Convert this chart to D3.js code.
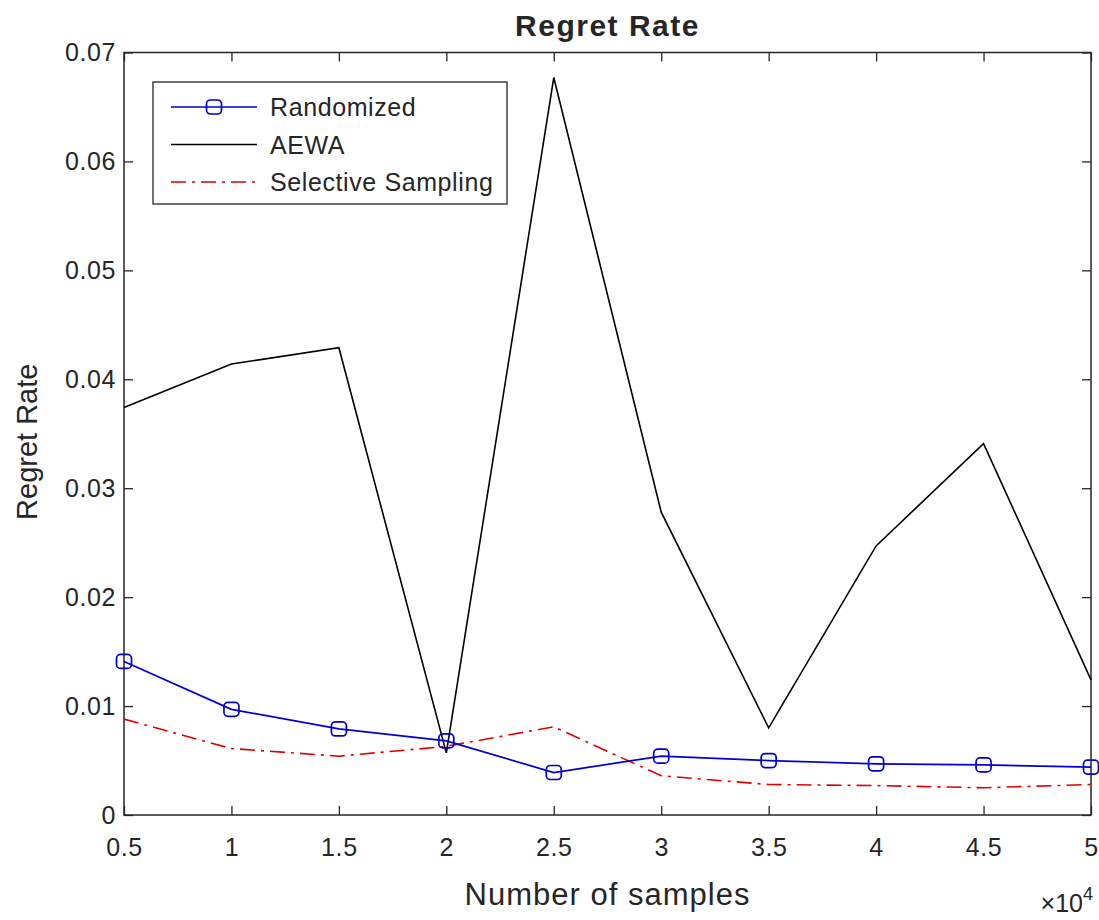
<!DOCTYPE html>
<html>
<head>
<meta charset="UTF-8">
<title>Regret Rate</title>
<style>
  body { margin: 0; background: #fff; }
  text { font-family: "Liberation Sans", Arial, sans-serif; fill: #262626; }
</style>
</head>
<body>
<div id="chart"></div>
<script src="https://cdn.jsdelivr.net/npm/d3@7"></script>
<script>
// data
var samples = [5000, 10000, 15000, 20000, 25000, 30000, 35000, 40000, 45000, 50000];
var randomized = [0.0141, 0.0097, 0.0079, 0.0068, 0.0039, 0.0054, 0.0050, 0.0047, 0.0046, 0.0044];
var aewa = [0.0374, 0.0414, 0.0429, 0.0057, 0.0677, 0.0278, 0.0080, 0.0247, 0.0341, 0.0124];
var selective = [0.0088, 0.0061, 0.0054, 0.0063, 0.0081, 0.0036, 0.0028, 0.0027, 0.0025, 0.0028];
var xTicks = [5000, 10000, 15000, 20000, 25000, 30000, 35000, 40000, 45000, 50000];
var yTicks = [0, 0.01, 0.02, 0.03, 0.04, 0.05, 0.06, 0.07];
var seriesNames = ["Randomized", "AEWA", "Selective Sampling"];

var width = 1099, height = 920;
var margin = { top: 52.5, right: 8, bottom: 105, left: 124 };
var axisColor = "#262626";

var svg = d3.select("#chart").append("svg")
  .attr("width", width)
  .attr("height", height);

var x = d3.scaleLinear().domain([5000, 50000]).range([margin.left, width - margin.right]);
var y = d3.scaleLinear().domain([0, 0.07]).range([height - margin.bottom, margin.top]);

var x0 = x.range()[0], x1 = x.range()[1], y0 = y.range()[0], y1 = y.range()[1];

// box
svg.append("rect")
  .attr("x", x0).attr("y", y1)
  .attr("width", x1 - x0).attr("height", y0 - y1)
  .attr("fill", "#fff")
  .attr("stroke", axisColor)
  .attr("stroke-width", 1.5);

// axes (inward ticks)
var tickLen = 9;
var xAxis = d3.axisBottom(x).tickValues(xTicks).tickSize(-tickLen).tickPadding(23)
  .tickFormat(function(d) { return d3.format("~g")(d / 10000); });
var gx = svg.append("g").attr("transform", "translate(0," + y0 + ")").call(xAxis);

var yAxis = d3.axisLeft(y).tickValues(yTicks).tickSize(-tickLen).tickPadding(8)
  .tickFormat(function(d) { return d === 0 ? "0" : d3.format(".2f")(d); });
var gy = svg.append("g").attr("transform", "translate(" + x0 + ",0)").call(yAxis);

// top and right ticks
svg.append("g").attr("transform", "translate(0," + y1 + ")")
  .call(d3.axisTop(x).tickValues(xTicks).tickSize(-tickLen).tickFormat(""));
svg.append("g").attr("transform", "translate(" + x1 + ",0)")
  .call(d3.axisRight(y).tickValues(yTicks).tickSize(-tickLen).tickFormat(""));

svg.selectAll(".domain").remove();
svg.selectAll(".tick line").attr("stroke", axisColor).attr("stroke-width", 1.3);
[gx, gy].forEach(function(g) {
  g.selectAll(".tick text")
    .attr("font-family", "Liberation Sans, Arial, sans-serif")
    .attr("font-size", 25)
    .attr("letter-spacing", 0.6)
    .attr("fill", axisColor);
});

// lines
var line = d3.line()
  .x(function(d, i) { return x(samples[i]); })
  .y(function(d) { return y(d); });

svg.append("path").datum(aewa)
  .attr("d", line).attr("fill", "none")
  .attr("stroke", "#000").attr("stroke-width", 1.6);

svg.append("path").datum(selective)
  .attr("d", line).attr("fill", "none")
  .attr("stroke", "#e00000").attr("stroke-width", 1.6)
  .attr("stroke-dasharray", "15,6,3,6");

svg.append("path").datum(randomized)
  .attr("d", line).attr("fill", "none")
  .attr("stroke", "#0000d0").attr("stroke-width", 1.7);

function marker(g, cx, cy) {
  g.append("rect")
    .attr("x", cx - 7.5).attr("y", cy - 7)
    .attr("width", 15).attr("height", 14)
    .attr("rx", 4).attr("ry", 4)
    .attr("fill", "none")
    .attr("stroke", "#0000d0").attr("stroke-width", 1.7);
}
var markers = svg.append("g");
randomized.forEach(function(d, i) { marker(markers, x(samples[i]), y(d)); });

// legend
var lg = svg.append("g");
lg.append("rect")
  .attr("x", 153).attr("y", 82).attr("width", 354).attr("height", 122)
  .attr("fill", "#fff").attr("stroke", axisColor).attr("stroke-width", 1.3);
var legendStyles = [
  { color: "#0000d0", dash: null, marker: true },
  { color: "#000", dash: null, marker: false },
  { color: "#e00000", dash: "15,6,3,6", marker: false }
];
seriesNames.forEach(function(name, i) {
  var ly = 107 + i * 37.5;
  lg.append("line")
    .attr("x1", 171).attr("x2", 257).attr("y1", ly).attr("y2", ly)
    .attr("stroke", legendStyles[i].color).attr("stroke-width", 1.6)
    .attr("stroke-dasharray", legendStyles[i].dash);
  if (legendStyles[i].marker) marker(lg, 214, ly);
  lg.append("text")
    .attr("x", 270).attr("y", ly + 9)
    .attr("font-size", 25)
    .attr("letter-spacing", 0.6)
    .text(name);
});

// title and axis labels
svg.append("text")
  .attr("x", (x0 + x1) / 2).attr("y", 36)
  .attr("text-anchor", "middle")
  .attr("font-size", 30).attr("font-weight", "bold")
  .attr("letter-spacing", 1.5)
  .attr("fill", "#000")
  .text("Regret Rate");

svg.append("text")
  .attr("x", (x0 + x1) / 2).attr("y", 905)
  .attr("text-anchor", "middle")
  .attr("font-size", 31)
  .attr("letter-spacing", 1)
  .text("Number of samples");

svg.append("text")
  .attr("transform", "translate(37," + ((y0 + y1) / 2 + 8) + ") rotate(-90)")
  .attr("text-anchor", "middle")
  .attr("font-size", 29)
  .text("Regret Rate");

// exponent label
var ex = svg.append("text")
  .attr("x", x1 + 2).attr("y", 912)
  .attr("text-anchor", "end")
  .attr("font-size", 25);
ex.append("tspan").text("\u00d710");
ex.append("tspan").attr("dy", -12).attr("font-size", 18).text("4");
</script>
</body>
</html>
